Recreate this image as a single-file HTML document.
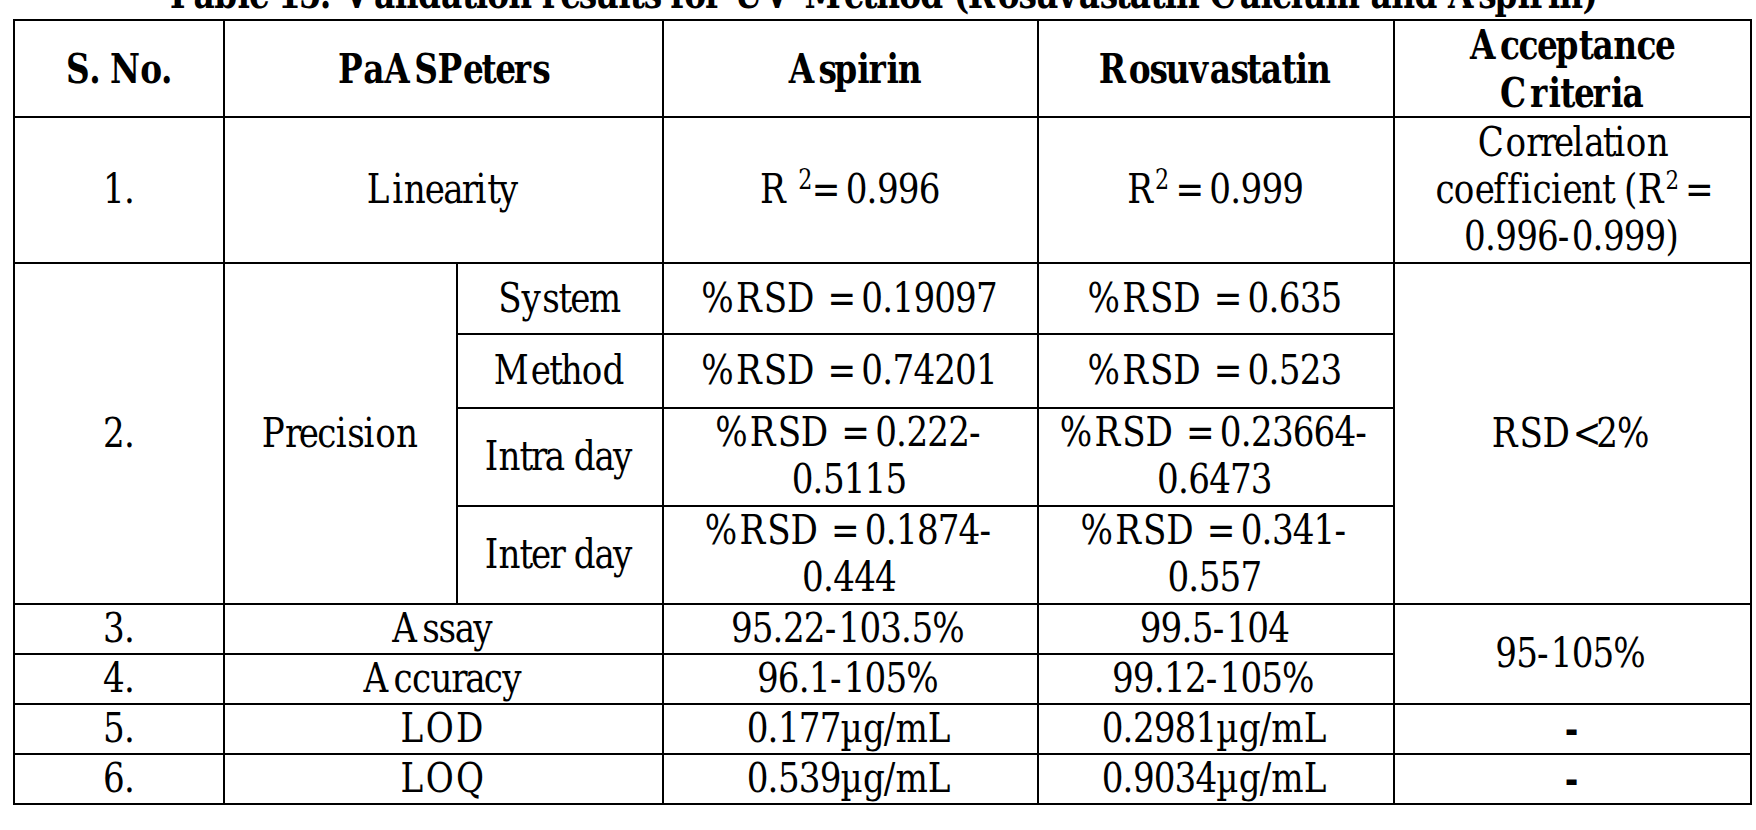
<!DOCTYPE html>
<html lang="en"><head><meta charset="utf-8"><title>Table 15: Validation results for UV Method</title>
<style>
html,body{margin:0;padding:0;background:#fff}
body{width:1756px;height:830px;overflow:hidden}
svg{display:block;position:absolute;left:0;top:0}
text{font-family:"DejaVu Serif","Liberation Serif",serif;font-stretch:normal;fill:#000;white-space:pre}
.b{font-weight:bold}
</style></head>
<body>
<svg width="1756" height="830" viewBox="0 0 1756 830" role="img" aria-label="Table 15 validation results">
<rect x="13" y="19" width="2" height="786"/>
<rect x="223" y="19" width="2" height="786"/>
<rect x="662" y="19" width="2" height="786"/>
<rect x="1037" y="19" width="2" height="786"/>
<rect x="1393" y="19" width="2" height="786"/>
<rect x="1750" y="19" width="2" height="786"/>
<rect x="456" y="262" width="2" height="343"/>
<rect x="13" y="19" width="1739" height="2"/>
<rect x="13" y="116" width="1739" height="2"/>
<rect x="13" y="262" width="1739" height="2"/>
<rect x="13" y="603" width="1739" height="2"/>
<rect x="13" y="703" width="1739" height="2"/>
<rect x="13" y="753" width="1739" height="2"/>
<rect x="13" y="803" width="1739" height="2"/>
<rect x="456" y="333" width="939" height="2"/>
<rect x="456" y="407" width="939" height="2"/>
<rect x="456" y="505" width="939" height="2"/>
<rect x="13" y="653" width="1382" height="2"/>
<text class="b" transform="translate(165.59 8.2) scale(0.7873 1)" font-size="41.67"><tspan x="0 35.3 61.76 91.2 105.9 129.39 142.63 169.09 195.55 213.18 226.41 264.63 291.09 305.8 320.5 349.94 376.4 394.02 408.73 435.19 464.63 477.86 501.35 524.84 545.44 574.87 589.58 607.2 627.8 641.03 658.65 685.12 708.61 721.84 760.06 798.28 811.51 861.47 884.96 902.58 932.02 958.48 987.92 1001.15 1018.77 1057 1083.46 1104.05 1133.49 1159.95 1186.42 1207.01 1224.64 1251.1 1268.72 1283.43 1312.86 1326.1 1364.32 1390.78 1405.48 1428.98 1443.68 1473.12 1517.2 1530.43 1556.9 1586.33 1615.77 1629 1667.22 1687.82 1717.25 1731.96 1755.45 1770.15 1799.59">Table 15: Validation results for UV Method (Rosuvastatin Calcium and Aspirin)</tspan></text>
<text class="b" transform="translate(66.03 82.8) scale(0.7873 1)" font-size="41.67"><tspan x="0 29.43 42.67 55.9 94.12 120.58">S. No.</tspan></text>
<text class="b" transform="translate(337.91 82.8) scale(0.7873 1)" font-size="41.67"><tspan x="0 32.33 58.79 97.01 126.45 158.78 182.27 199.89 223.38 246.88">PaASPeters</tspan></text>
<text class="b" transform="translate(788.66 82.8) scale(0.7873 1)" font-size="41.67"><tspan x="0 37.8 57.98 87 101.28 124.35 138.64">Aspirin</tspan></text>
<text class="b" transform="translate(1098.64 82.8) scale(0.7873 1)" font-size="41.67"><tspan x="0 38.22 64.68 85.28 114.72 141.18 167.64 188.24 205.86 232.33 249.95 264.66">Rosuvastatin</tspan></text>
<text class="b" transform="translate(1469.89 59) scale(0.7873 1)" font-size="41.67"><tspan x="0 38.22 61.71 85.2 108.69 138.13 155.75 182.22 211.65 235.14">Acceptance</tspan></text>
<text class="b" transform="translate(1499.98 107.2) scale(0.7873 1)" font-size="41.67"><tspan x="0 38.22 61.71 76.42 94.04 117.53 141.02 155.73">Criteria</tspan></text>
<text transform="translate(103.07 202.6) scale(0.8203 1)" font-size="41.67"><tspan x="0 25.4">1.</tspan></text>
<text transform="translate(366.84 202.6) scale(0.8203 1)" font-size="41.67"><tspan x="0 31.03 45.14 70.54 93.08 115.63 132.54 146.66 160.77">Linearity</tspan></text>
<text transform="translate(760.09 202.6) scale(0.8203 1)" font-size="41.67"><tspan x="0 33.88">R </tspan><tspan x="46.58" dy="-13.54" font-size="27.08">2</tspan><tspan x="63.09 91.73 104.43 129.83 142.53 167.93 193.32" dy="13.54">= 0.996</tspan></text>
<text transform="translate(1127.32 202.6) scale(0.8203 1)" font-size="41.67"><tspan x="0">R</tspan><tspan x="33.88 50.39" dy="-13.54" font-size="27.08">2 </tspan><tspan x="58.64 87.29 99.99 125.39 138.08 163.48 188.88" dy="13.54">= 0.999</tspan></text>
<text transform="translate(1477.72 155.6) scale(0.8203 1)" font-size="41.67"><tspan x="0 33.88 59.28 76.19 93.11 115.65 129.77 152.31 166.42 180.54 205.93">Correlation</tspan></text>
<text transform="translate(1435.38 202.6) scale(0.8203 1)" font-size="41.67"><tspan x="0 22.55 47.94 70.49 87.4 104.32 118.43 140.98 155.09 177.63 203.03 217.14 229.84 246.76">coefficient (R</tspan><tspan x="280.64 296.51" dy="-13.54" font-size="26.04">2 </tspan><tspan x="304.45" dy="13.54">=</tspan></text>
<text transform="translate(1464.07 249.6) scale(0.8203 1)" font-size="41.67"><tspan x="0 25.4 38.1 63.49 88.89 114.29 131.2 156.6 169.3 194.7 220.1 245.49">0.996-0.999)</tspan></text>
<text transform="translate(103.07 447) scale(0.8203 1)" font-size="41.67"><tspan x="0 25.4">2.</tspan></text>
<text transform="translate(261.76 446.6) scale(0.8203 1)" font-size="41.67"><tspan x="0 28.25 45.17 67.71 90.26 104.37 124.14 138.25 163.65">Precision</tspan></text>
<text transform="translate(498.35 312) scale(0.8203 1)" font-size="41.67"><tspan x="0 28.25 53.65 73.41 87.53 110.07">System</tspan></text>
<text transform="translate(493.69 384) scale(0.8203 1)" font-size="41.67"><tspan x="0 45.17 67.71 81.82 107.22 132.62">Method</tspan></text>
<text transform="translate(484.68 469.6) scale(0.8203 1)" font-size="41.67"><tspan x="0 16.92 42.31 56.43 73.34 95.89 108.58 133.98 156.53">Intra day</tspan></text>
<text transform="translate(484.68 567.6) scale(0.8203 1)" font-size="41.67"><tspan x="0 16.92 42.31 56.43 78.97 95.89 108.58 133.98 156.53">Inter day</tspan></text>
<text transform="translate(701.24 312) scale(0.8203 1)" font-size="41.67"><tspan x="0 42.31 76.19 104.44 141.13 153.82 182.47 195.17 220.57 233.27 258.66 284.06 309.46 334.86">%RSD = 0.19097</tspan></text>
<text transform="translate(701.24 384) scale(0.8203 1)" font-size="41.67"><tspan x="0 42.31 76.19 104.44 141.13 153.82 182.47 195.17 220.57 233.27 258.66 284.06 309.46 334.86">%RSD = 0.74201</tspan></text>
<text transform="translate(715.14 446) scale(0.8203 1)" font-size="41.67"><tspan x="0 42.31 76.19 104.44 141.13 153.82 182.47 195.17 220.57 233.27 258.66 284.06 309.46">%RSD = 0.222-</tspan></text>
<text transform="translate(791.71 493) scale(0.8203 1)" font-size="41.67"><tspan x="0 25.4 38.1 63.49 88.89 114.29">0.5115</tspan></text>
<text transform="translate(704.72 544) scale(0.8203 1)" font-size="41.67"><tspan x="0 42.31 76.19 104.44 141.13 153.82 182.47 195.17 220.57 233.27 258.66 284.06 309.46 334.86">%RSD = 0.1874-</tspan></text>
<text transform="translate(802.12 591) scale(0.8203 1)" font-size="41.67"><tspan x="0 25.4 38.1 63.49 88.89">0.444</tspan></text>
<text transform="translate(1087.48 312) scale(0.8203 1)" font-size="41.67"><tspan x="0 42.31 76.19 104.44 141.13 153.82 182.47 195.17 220.57 233.27 258.66 284.06">%RSD = 0.635</tspan></text>
<text transform="translate(1087.48 384) scale(0.8203 1)" font-size="41.67"><tspan x="0 42.31 76.19 104.44 141.13 153.82 182.47 195.17 220.57 233.27 258.66 284.06">%RSD = 0.523</tspan></text>
<text transform="translate(1059.71 446) scale(0.8203 1)" font-size="41.67"><tspan x="0 42.31 76.19 104.44 141.13 153.82 182.47 195.17 220.57 233.27 258.66 284.06 309.46 334.86 360.25">%RSD = 0.23664-</tspan></text>
<text transform="translate(1157.11 493) scale(0.8203 1)" font-size="41.67"><tspan x="0 25.4 38.1 63.49 88.89 114.29">0.6473</tspan></text>
<text transform="translate(1080.54 544) scale(0.8203 1)" font-size="41.67"><tspan x="0 42.31 76.19 104.44 141.13 153.82 182.47 195.17 220.57 233.27 258.66 284.06 309.46">%RSD = 0.341-</tspan></text>
<text transform="translate(1167.52 591) scale(0.8203 1)" font-size="41.67"><tspan x="0 25.4 38.1 63.49 88.89">0.557</tspan></text>
<text transform="translate(1491.65 447) scale(0.8203 1)" font-size="41.67"><tspan x="0 33.88 62.13 98.81 127.46 152.86">RSD&lt;2%</tspan></text>
<text transform="translate(103.07 642) scale(0.8203 1)" font-size="41.67"><tspan x="0 25.4">3.</tspan></text>
<text transform="translate(392.28 642) scale(0.8203 1)" font-size="41.67"><tspan x="0 36.68 56.45 76.22 98.76">Assay</tspan></text>
<text transform="translate(730.96 642) scale(0.8203 1)" font-size="41.67"><tspan x="0 25.4 50.8 63.49 88.89 114.29 131.2 156.6 182 207.4 220.1 245.49">95.22-103.5%</tspan></text>
<text transform="translate(1139.75 642) scale(0.8203 1)" font-size="41.67"><tspan x="0 25.4 50.8 63.49 88.89 105.81 131.2 156.6">99.5-104</tspan></text>
<text transform="translate(103.07 692) scale(0.8203 1)" font-size="41.67"><tspan x="0 25.4">4.</tspan></text>
<text transform="translate(363.4 692) scale(0.8203 1)" font-size="41.67"><tspan x="0 36.68 59.23 81.77 107.17 124.09 146.63 169.18">Accuracy</tspan></text>
<text transform="translate(757 692) scale(0.8203 1)" font-size="41.67"><tspan x="0 25.4 50.8 63.49 88.89 105.81 131.2 156.6 182">96.1-105%</tspan></text>
<text transform="translate(1111.98 692) scale(0.8203 1)" font-size="41.67"><tspan x="0 25.4 50.8 63.49 88.89 114.29 131.2 156.6 182 207.4">99.12-105%</tspan></text>
<text transform="translate(103.07 742) scale(0.8203 1)" font-size="41.67"><tspan x="0 25.4">5.</tspan></text>
<text transform="translate(400.38 742) scale(0.8203 1)" font-size="41.67"><tspan x="0 31.03 67.71">LOD</tspan></text>
<text transform="translate(746.74 742) scale(0.8203 1)" font-size="41.67"><tspan x="0 25.4 38.1 63.49 88.89 114.29 141.72 167.12 181.23 220.74">0.177µg/mL</tspan></text>
<text transform="translate(1101.72 742) scale(0.8203 1)" font-size="41.67"><tspan x="0 25.4 38.1 63.49 88.89 114.29 139.69 167.12 192.51 206.63 246.14">0.2981µg/mL</tspan></text>
<text transform="translate(103.07 792) scale(0.8203 1)" font-size="41.67"><tspan x="0 25.4">6.</tspan></text>
<text transform="translate(400.38 792) scale(0.8203 1)" font-size="41.67"><tspan x="0 31.03 67.71">LOQ</tspan></text>
<text transform="translate(746.74 792) scale(0.8203 1)" font-size="41.67"><tspan x="0 25.4 38.1 63.49 88.89 114.29 141.72 167.12 181.23 220.74">0.539µg/mL</tspan></text>
<text transform="translate(1101.72 792) scale(0.8203 1)" font-size="41.67"><tspan x="0 25.4 38.1 63.49 88.89 114.29 139.69 167.12 192.51 206.63 246.14">0.9034µg/mL</tspan></text>
<text transform="translate(1495.32 667) scale(0.8203 1)" font-size="41.67"><tspan x="0 25.4 50.8 67.71 93.11 118.51 143.9">95-105%</tspan></text>
<text class="b" transform="translate(1564.76 742.6) scale(0.7873 1)" font-size="41.67"><tspan x="0">-</tspan></text>
<text class="b" transform="translate(1564.76 792.6) scale(0.7873 1)" font-size="41.67"><tspan x="0">-</tspan></text>
</svg>
</body></html>
